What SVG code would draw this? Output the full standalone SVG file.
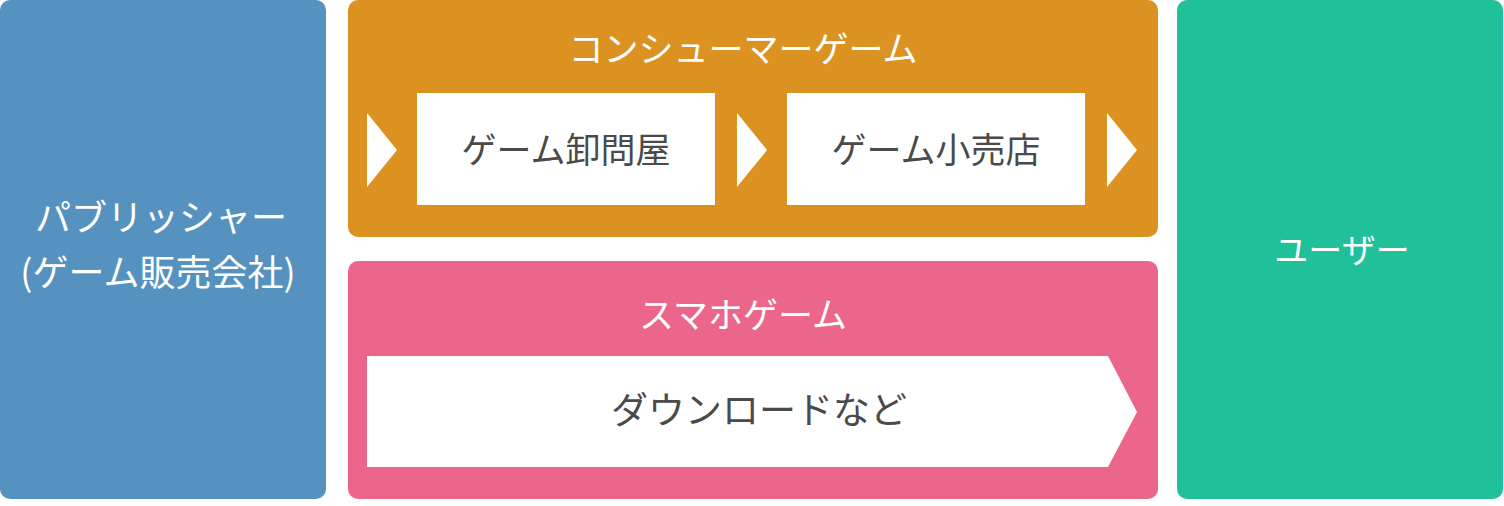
<svg xmlns="http://www.w3.org/2000/svg" width="1504" height="506" viewBox="0 0 1504 506">
<style>
.t{font-family:"Noto Sans CJK JP","Noto Sans",sans-serif;text-anchor:middle}
.w{fill:#ffffff}
.d{fill:#4a4a4a}
</style>
<rect width="1504" height="506" fill="#ffffff"/>
<g id="publisher">
<rect x="0" y="0" width="326" height="499" rx="10" fill="#5592BF"/>
<text class="t w" x="161" y="231" font-size="36">パブリッシャー</text>
<text class="t w" x="158" y="286" font-size="36">(ゲーム販売会社)</text>
</g>
<g id="consumer">
<rect x="348" y="0" width="810" height="237" rx="10" fill="#DB9220"/>
<text class="t w" x="743" y="62" font-size="35">コンシューマーゲーム</text>
</g>
<g id="wholesaler">
<rect x="417" y="93" width="298" height="112" fill="#ffffff"/>
<text class="t d" x="566" y="163" font-size="35">ゲーム卸問屋</text>
</g>
<g id="retailer">
<rect x="787" y="93" width="298" height="112" fill="#ffffff"/>
<text class="t d" x="936" y="163" font-size="35">ゲーム小売店</text>
</g>
<g id="smartphone">
<rect x="348" y="261" width="810" height="238" rx="10" fill="#EB668A"/>
<text class="t w" x="743" y="328" font-size="35">スマホゲーム</text>
</g>
<g id="download">
<polygon points="367,356 1108,356 1137,412 1108,467 367,467" fill="#ffffff"/>
<text class="t d" x="759" y="424" font-size="37">ダウンロードなど</text>
</g>
<g id="user">
<rect x="1177" y="0" width="326" height="499" rx="10" fill="#20C098"/>
<text class="t w" x="1342" y="263" font-size="34">ユーザー</text>
</g>
<g id="connectors" fill="#ffffff">
<polygon points="367,113 397,150 367,187"/>
<polygon points="737,113 767,150 737,187"/>
<polygon points="1107,113 1137,150 1107,187"/>
</g>
</svg>
